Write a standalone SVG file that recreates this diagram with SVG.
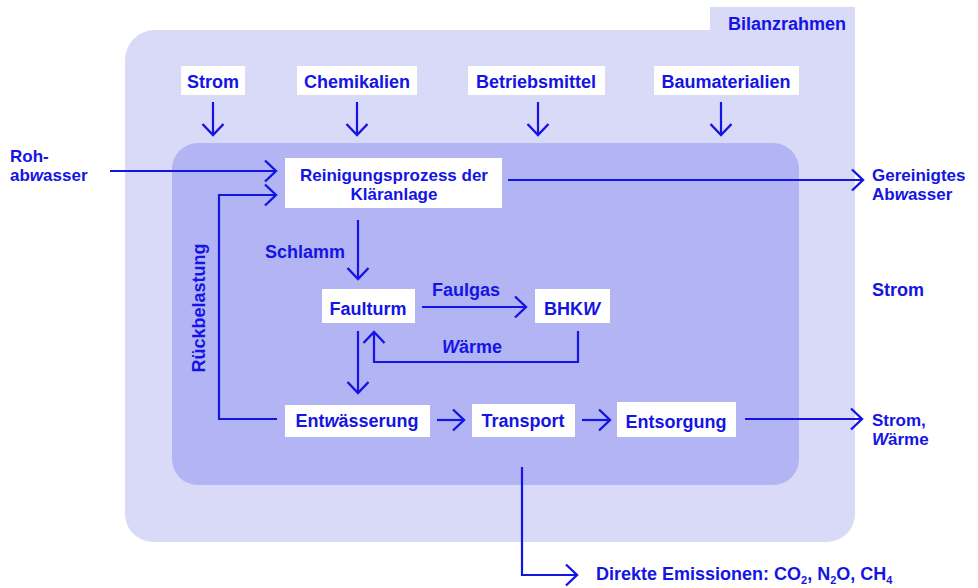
<svg xmlns="http://www.w3.org/2000/svg" width="978" height="588" viewBox="0 0 978 588">
<style>
text{font-family:"Liberation Sans",Arial,sans-serif;font-weight:bold;font-size:18px;fill:#1414e4}
.c{text-anchor:middle}
.t{font-size:17px}
.box{fill:#ffffff}
.ln{fill:none;stroke:#1414e4;stroke-width:2.2}
.w{font-style:italic}
</style>
<defs>
<marker id="ah" markerUnits="userSpaceOnUse" markerWidth="30" markerHeight="30" viewBox="-15 -15 30 30" refX="0" refY="0" orient="auto">
<path d="M-11,-10.5 L0,0 L-11,10.5" fill="none" stroke="#1414e4" stroke-width="2.4"/>
</marker>
</defs>
<rect width="978" height="588" fill="#ffffff"/>
<g id="bilanzrahmen">
<path d="M125,60 A30,30 0 0 1 155,30 L710,30 L710,7 L855,7 L855,514 A28,28 0 0 1 827,542 L153,542 A28,28 0 0 1 125,514 Z" fill="#d9d9f8"/>
<text x="846" y="30" text-anchor="end">Bilanzrahmen</text>
</g>
<g id="klaeranlage">
<rect x="172" y="143" width="627" height="342" rx="26" fill="#b2b4f3"/>
</g>
<g id="strom-in"><rect class="box" x="181" y="66" width="64" height="29"/><text class="c" x="213" y="88">Strom</text></g>
<g id="chemikalien"><rect class="box" x="297" y="66" width="120" height="29"/><text class="c" x="357" y="88">Chemikalien</text></g>
<g id="betriebsmittel"><rect class="box" x="468" y="66" width="137" height="29"/><text class="c" x="536" y="88">Betriebsmittel</text></g>
<g id="baumaterialien"><rect class="box" x="654" y="66" width="145" height="29"/><text class="c" x="726" y="88">Baumaterialien</text></g>
<g id="reinigung"><rect class="box" x="285" y="158" width="217" height="50"/><text class="c t" x="394" y="181">Reinigungsprozess der</text><text class="c t" x="394" y="200">Kläranlage</text></g>
<g id="faulturm"><rect class="box" x="322" y="289" width="93" height="34"/><text class="c" x="368" y="315">Faulturm</text></g>
<g id="bhkw"><rect class="box" x="535" y="289" width="75" height="34"/><text class="c" x="572" y="315">BHK<tspan class="w">W</tspan></text></g>
<g id="entwaesserung"><rect class="box" x="285" y="405" width="145" height="32"/><text class="c" x="357" y="427">Ent<tspan class="w">w</tspan>ässerung</text></g>
<g id="transport"><rect class="box" x="472" y="404" width="103" height="33"/><text class="c" x="523" y="427">Transport</text></g>
<g id="entsorgung"><rect class="box" x="617" y="402" width="119" height="35"/><text class="c" x="676" y="428">Entsorgung</text></g>
<g id="labels">
<text class="t" x="10" y="162">Roh-</text>
<text class="t" x="10" y="181">ab<tspan class="w">w</tspan>asser</text>
<text class="t" x="872" y="181">Gereinigtes</text>
<text class="t" x="872" y="200">Ab<tspan class="w">w</tspan>asser</text>
<text x="872" y="296">Strom</text>
<text class="t" x="872" y="426">Strom,</text>
<text class="t" x="872" y="445"><tspan class="w">W</tspan>ärme</text>
<text x="265" y="258">Schlamm</text>
<text x="432" y="296">Faulgas</text>
<text x="442" y="353"><tspan class="w">W</tspan>ärme</text>
<text class="c" transform="translate(205,308) rotate(-90)">Rückbelastung</text>
<text x="596" y="580">Direkte Emissionen: CO<tspan font-size="11" dy="4">2</tspan><tspan dy="-4">, N</tspan><tspan font-size="11" dy="4">2</tspan><tspan dy="-4">O, CH</tspan><tspan font-size="11" dy="4">4</tspan></text>
</g>
<g id="connectors">
<path class="ln" marker-end="url(#ah)" d="M213,102 V135"/>
<path class="ln" marker-end="url(#ah)" d="M357,102 V135"/>
<path class="ln" marker-end="url(#ah)" d="M538,102 V135"/>
<path class="ln" marker-end="url(#ah)" d="M721,102 V135"/>
<path class="ln" marker-end="url(#ah)" d="M110,171 H276"/>
<path class="ln" marker-end="url(#ah)" d="M277,419 H219 V195 H276"/>
<path class="ln" marker-end="url(#ah)" d="M508,180 H863"/>
<path class="ln" marker-end="url(#ah)" d="M358,220 V279"/>
<path class="ln" marker-end="url(#ah)" d="M422,307 H526"/>
<path class="ln" marker-end="url(#ah)" d="M578,331 V362 H374 V332"/>
<path class="ln" marker-end="url(#ah)" d="M358,331 V393"/>
<path class="ln" marker-end="url(#ah)" d="M437,420 H464"/>
<path class="ln" marker-end="url(#ah)" d="M582,420 H610"/>
<path class="ln" marker-end="url(#ah)" d="M745,419 H862"/>
<path class="ln" marker-end="url(#ah)" d="M522,467 V575 H577"/>
</g>
</svg>
